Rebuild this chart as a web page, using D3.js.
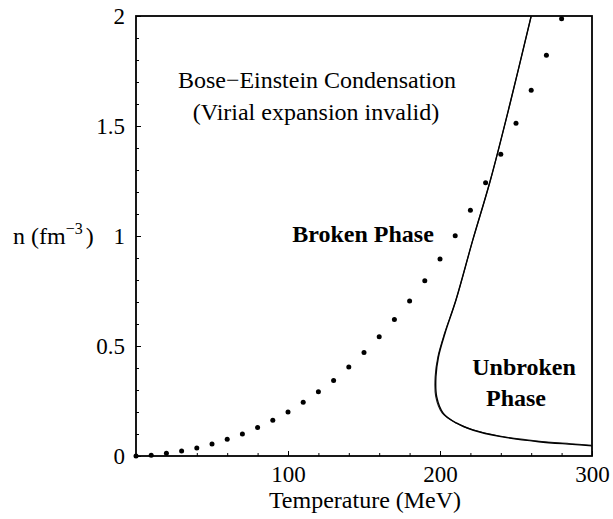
<!DOCTYPE html>
<html>
<head>
<meta charset="utf-8">
<script src="https://cdn.jsdelivr.net/npm/d3@7"></script>
<style>
  html, body { margin: 0; padding: 0; background: #fff; }
  svg { display: block; }
  text { font-family: "Liberation Serif", "Times New Roman", serif; fill: #000; }
</style>
</head>
<body>
<svg id="chart" width="613" height="519"></svg>
<script>
// Virial-expansion density at each temperature (dotted series)
const dotT = [0, 10, 20, 30, 40, 50, 60, 70, 80, 90, 100, 110, 120, 130, 140,
              150, 160, 170, 180, 190, 200, 210, 220, 230, 240, 250, 260, 270, 280];
const dotN = [0, 0.003, 0.013, 0.023, 0.036, 0.055, 0.076, 0.100, 0.129, 0.162,
              0.200, 0.244, 0.292, 0.343, 0.405, 0.470, 0.542, 0.620, 0.704, 0.797,
              0.895, 1.001, 1.117, 1.242, 1.372, 1.512, 1.662, 1.822, 1.988];

// Phase boundary (solid curve), traced from the top of the frame down to the right edge
const boundaryT = [260, 246, 233, 221.5, 210.5, 203.3, 199.0, 197.3, 197.8,
                   202.2, 211, 222, 240, 265, 287, 300];
const boundaryN = [2.0, 1.6, 1.25, 0.98, 0.709, 0.558, 0.451, 0.36, 0.27,
                   0.194, 0.149, 0.117, 0.088, 0.065, 0.053, 0.046];
// second, nearly coincident boundary estimate
const boundary2T = [260, 246, 233, 221.5, 210.5, 203.0, 198.6, 196.8, 197.2,
                    201.4, 210, 221, 239, 264, 286, 300];
const boundary2N = [2.0, 1.6, 1.25, 0.98, 0.709, 0.558, 0.451, 0.36, 0.27,
                    0.196, 0.152, 0.120, 0.091, 0.068, 0.056, 0.049];

// Axis ticks
const xMajor = [100, 200, 300];
const xMinor = [20, 40, 60, 80, 120, 140, 160, 180, 220, 240, 260, 280];
const yMajor = [0, 0.5, 1, 1.5, 2];
const yMajorLabels = ["0", "0.5", "1", "1.5", "2"];
const yMinor = [0.1, 0.2, 0.3, 0.4, 0.6, 0.7, 0.8, 0.9, 1.1, 1.2, 1.3, 1.4, 1.6, 1.7, 1.8, 1.9];

const svg = d3.select("#chart");
const plotLeft = 136, plotRight = 592, plotTop = 16, plotBottom = 456;

const x = d3.scaleLinear().domain([0, 300]).range([plotLeft, plotRight]);
const y = d3.scaleLinear().domain([0, 2]).range([plotBottom, plotTop]);

// Frame
svg.append("rect")
  .attr("x", plotLeft).attr("y", plotTop)
  .attr("width", plotRight - plotLeft).attr("height", plotBottom - plotTop)
  .attr("fill", "none").attr("stroke", "#000").attr("stroke-width", 1.8);

// Bottom axis: ticks point inward
const xAxisMajor = d3.axisBottom(x).tickValues(xMajor).tickSizeInner(-5).tickSizeOuter(0)
  .tickPadding(10).tickFormat(d3.format("d"));
const gx = svg.append("g").attr("transform", `translate(0,${plotBottom})`).call(xAxisMajor);
gx.select(".domain").remove();
gx.selectAll("line").attr("stroke", "#000").attr("stroke-width", 1);
gx.selectAll("text").attr("font-size", 23).attr("font-family", "Liberation Serif, serif");

const gxm = svg.append("g").attr("transform", `translate(0,${plotBottom})`)
  .call(d3.axisBottom(x).tickValues(xMinor).tickSizeInner(-3).tickSizeOuter(0).tickFormat(""));
gxm.select(".domain").remove();
gxm.selectAll("line").attr("stroke", "#000").attr("stroke-width", 1);

// Left axis
const yAxisMajor = d3.axisLeft(y).tickValues(yMajor).tickSizeInner(-5).tickSizeOuter(0)
  .tickPadding(11).tickFormat((d, i) => yMajorLabels[i]);
const gy = svg.append("g").attr("transform", `translate(${plotLeft},0)`).call(yAxisMajor);
gy.select(".domain").remove();
gy.selectAll("line").attr("stroke", "#000").attr("stroke-width", 1);
gy.selectAll("text").attr("font-size", 23).attr("font-family", "Liberation Serif, serif");

const gym = svg.append("g").attr("transform", `translate(${plotLeft},0)`)
  .call(d3.axisLeft(y).tickValues(yMinor).tickSizeInner(-3).tickSizeOuter(0).tickFormat(""));
gym.select(".domain").remove();
gym.selectAll("line").attr("stroke", "#000").attr("stroke-width", 1);

// Axis titles
svg.append("text")
  .attr("x", (plotLeft + plotRight) / 2 + 1).attr("y", 508)
  .attr("text-anchor", "middle").attr("font-size", 24)
  .text("Temperature (MeV)");

const yl = svg.append("text").attr("x", 13).attr("y", 244).attr("font-size", 24);
yl.append("tspan").text("n (fm");
yl.append("tspan").attr("font-size", 16).attr("dy", -10).text("\u22123");
yl.append("tspan").attr("dy", 10).attr("dx", 3).text(")");

// Phase boundary curves
svg.append("clipPath").attr("id", "plotclip")
  .append("rect").attr("x", plotLeft).attr("y", plotTop)
  .attr("width", plotRight - plotLeft).attr("height", plotBottom - plotTop);

const line = d3.line().x(d => x(d[0])).y(d => y(d[1])).curve(d3.curveCatmullRom.alpha(0.5));
svg.append("path")
  .datum(boundary2T.map((t, i) => [t, boundary2N[i]]))
  .attr("d", line).attr("fill", "none").attr("stroke", "#222").attr("stroke-width", 1.1)
  .attr("clip-path", "url(#plotclip)");
svg.append("path")
  .datum(boundaryT.map((t, i) => [t, boundaryN[i]]))
  .attr("d", line).attr("fill", "none").attr("stroke", "#000").attr("stroke-width", 1.4)
  .attr("clip-path", "url(#plotclip)");

// Dotted series
svg.append("g").selectAll("circle")
  .data(dotT.map((t, i) => [t, dotN[i]]))
  .join("circle")
  .attr("cx", d => x(d[0])).attr("cy", d => y(d[1])).attr("r", 2.5)
  .attr("fill", "#000");

// Region labels
svg.append("text").attr("x", 317).attr("y", 88).attr("text-anchor", "middle")
  .attr("font-size", 24).text("Bose\u2212Einstein Condensation");
svg.append("text").attr("x", 316).attr("y", 120).attr("text-anchor", "middle")
  .attr("font-size", 24).text("(Virial expansion invalid)");
svg.append("text").attr("x", 363).attr("y", 242).attr("text-anchor", "middle")
  .attr("font-size", 24).attr("font-weight", "bold").text("Broken Phase");
svg.append("text").attr("x", 524).attr("y", 375).attr("text-anchor", "middle")
  .attr("font-size", 24).attr("font-weight", "bold").text("Unbroken");
svg.append("text").attr("x", 516).attr("y", 406).attr("text-anchor", "middle")
  .attr("font-size", 24).attr("font-weight", "bold").text("Phase");
</script>
</body>
</html>
